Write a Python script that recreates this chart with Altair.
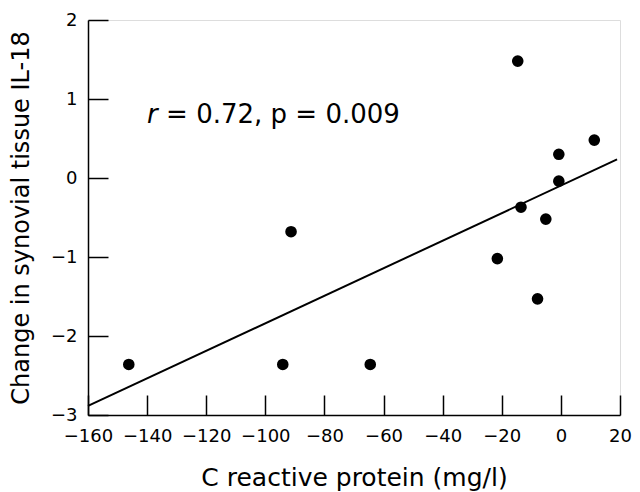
import altair as alt
import pandas as pd

# Data
crp = [-146.2, -94.1, -64.5, -91.3, -21.5, -7.9, -14.6, 11.3, -0.7, -0.7, -13.5, -5.1]
il18 = [-2.36, -2.36, -2.36, -0.68, -1.02, -1.53, 1.48, 0.48, 0.30, -0.04, -0.37, -0.52]

x_ticks = [-160, -140, -120, -100, -80, -60, -40, -20, 0, 20]
y_ticks = [-3, -2, -1, 0, 1, 2]

ann_r = "r"
ann_rest = "= 0.72, p = 0.009"

df = pd.DataFrame({"crp": crp, "il18": il18})

FONT = "DejaVu Sans"
W, H = 532, 395

xs = alt.Scale(domain=[-160, 20], nice=False, zero=False)
ys = alt.Scale(domain=[-3, 2], nice=False, zero=False)

base = alt.Chart(df)

# main axes: labels, domain lines, titles
points = base.mark_circle(size=135, color="black", opacity=1).encode(
    x=alt.X("crp:Q", scale=xs, axis=alt.Axis(
        orient="bottom", values=x_ticks, ticks=False, tickSize=0, grid=False,
        domain=True, domainColor="black", domainWidth=1.5,
        labelFont=FONT, labelFontSize=18, labelColor="black", labelPadding=12,
        labelOverlap=False, labelFlush=False,
        title="C reactive protein (mg/l)", titleFont=FONT, titleFontSize=25,
        titleFontWeight="normal", titleColor="black", titleY=70,
        titleBaseline="alphabetic")),
    y=alt.Y("il18:Q", scale=ys, axis=alt.Axis(
        orient="left", values=y_ticks, ticks=False, tickSize=0, grid=False,
        domain=True, domainColor="black", domainWidth=1.5,
        labelFont=FONT, labelFontSize=18, labelColor="black", labelPadding=11,
        labelOverlap=False, labelFlush=False,
        title="Change in synovial tissue IL-18", titleFont=FONT, titleFontSize=24,
        titleFontWeight="normal", titleColor="black", titleX=-60, titleY=H / 2,
        titleBaseline="alphabetic")),
)

# regression line, also carrying the inward-pointing tick axes
line = base.transform_regression("crp", "il18", extent=[-160, 19]).mark_line(
    color="black", strokeWidth=2
).encode(
    x=alt.X("crp:Q", scale=xs, axis=alt.Axis(
        orient="top", offset=-H, values=x_ticks, labels=False, domain=False,
        grid=False, ticks=True, tickSize=20, tickColor="black", tickWidth=1.5,
        title="")),
    y=alt.Y("il18:Q", scale=ys, axis=alt.Axis(
        orient="right", offset=-W, values=y_ticks, labels=False, domain=False,
        grid=False, ticks=True, tickSize=20, tickColor="black", tickWidth=1.5,
        title="")),
)

ann1 = alt.Chart(pd.DataFrame({"t": [ann_r]})).mark_text(
    font=FONT, fontSize=26, fontStyle="italic", align="left",
    baseline="alphabetic", color="black"
).encode(
    x=alt.datum(-140, scale=xs, axis=None),
    y=alt.datum(0.70, scale=ys, axis=None),
    text="t:N",
)

ann2 = alt.Chart(pd.DataFrame({"t": [ann_rest]})).mark_text(
    font=FONT, fontSize=26, align="left", baseline="alphabetic", color="black",
    dx=19
).encode(
    x=alt.datum(-140, scale=xs, axis=None),
    y=alt.datum(0.70, scale=ys, axis=None),
    text="t:N",
)

chart = alt.layer(line, points, ann1, ann2).resolve_axis(
    x="independent", y="independent"
).properties(
    width=W, height=H,
    autosize=alt.AutoSizeParams(type="none"),
    padding={"left": 80, "top": 12, "right": 12, "bottom": 76},
).configure_view(stroke=None).configure(background="white")

chart.save("out.html", embed_options={"renderer": "svg", "actions": False})
